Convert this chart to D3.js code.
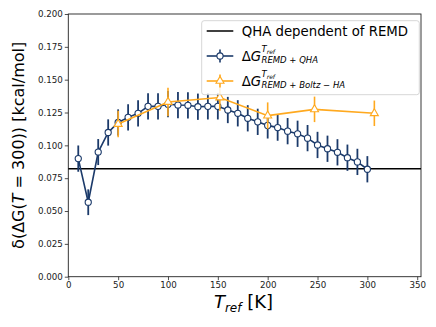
<!DOCTYPE html>
<html>
<head>
<meta charset="utf-8">
<script src="https://cdn.jsdelivr.net/npm/d3@7"></script>
<style>
body{margin:0;background:#fff;}
text{font-family:"DejaVu Sans",sans-serif;}
</style>
</head>
<body>
<svg id="chart" width="436" height="327"></svg>
<script>
// ---- data ----
const remdQhaT = [10,20,30,40,50,60,70,80,90,100,110,120,130,140,150,160,170,180,190,200,210,220,230,240,250,260,270,280,290,300];
const remdQhaVal = [0.0899,0.0567,0.0949,0.1098,0.1174,0.1213,0.1244,0.1297,0.1297,0.1313,0.1307,0.1305,0.1294,0.1297,0.1297,0.1269,0.1244,0.1206,0.1179,0.1152,0.1135,0.1108,0.1088,0.1055,0.1003,0.0974,0.0947,0.0906,0.0874,0.0818];
const remdQhaErr = [0.0100,0.0098,0.0099,0.0100,0.0100,0.0100,0.0100,0.0100,0.0100,0.0100,0.0100,0.0100,0.0100,0.0100,0.0100,0.0100,0.0100,0.0100,0.0100,0.0100,0.0100,0.0100,0.0100,0.0100,0.0100,0.0100,0.0100,0.0100,0.0100,0.0100];
const boltzT = [50,100,152,200,247,307];
const boltzVal = [0.1162,0.1330,0.1364,0.1226,0.1274,0.1244];
const boltzErr = [0.0101,0.0109,0.0100,0.0101,0.0097,0.0097];
const qhaLevel = 0.0822;
const xTicks = [0,50,100,150,200,250,300,350];
const yTicks = [0.000,0.025,0.050,0.075,0.100,0.125,0.150,0.175,0.200];

const blue = "#1b3a6a";
const orange = "#ffa91f";

const svg = d3.select("#chart");
const L = 68.3, R = 421, T = 14, B = 276.7;
const x = d3.scaleLinear().domain([0,353.8]).range([L,R]);
const y = d3.scaleLinear().domain([0,0.2]).range([B,T]);

// axes
const xAxis = d3.axisBottom(x).tickValues(xTicks).tickFormat(d3.format("d")).tickSize(3.5).tickPadding(2);
const yAxis = d3.axisLeft(y).tickValues(yTicks).tickFormat(d3.format(".3f")).tickSize(3.5).tickPadding(2);
const gx = svg.append("g").attr("transform",`translate(0,${B})`).call(xAxis);
const gy = svg.append("g").attr("transform",`translate(${L},0)`).call(yAxis);
[gx,gy].forEach(g=>{
  g.select(".domain").remove();
  g.selectAll("text").attr("font-size","8.7px").attr("fill","#222").style("font-family","DejaVu Sans");
  g.selectAll("line").attr("stroke","#222").attr("stroke-width",0.8);
});

// frame
svg.append("rect").attr("x",L).attr("y",T).attr("width",R-L).attr("height",B-T)
  .attr("fill","none").attr("stroke","#222").attr("stroke-width",0.9);

// horizontal QHA line
svg.append("line").attr("x1",L).attr("x2",R).attr("y1",y(qhaLevel)).attr("y2",y(qhaLevel))
  .attr("stroke","#000").attr("stroke-width",1.5);

const blueData = remdQhaT.map((t,i)=>({t,v:remdQhaVal[i],e:remdQhaErr[i]}));
const orangeData = boltzT.map((t,i)=>({t,v:boltzVal[i],e:boltzErr[i]}));

const line = d3.line().x(d=>x(d.t)).y(d=>y(d.v));

// blue series
const gb = svg.append("g");
gb.selectAll("line.err").data(blueData).enter().append("line")
  .attr("x1",d=>x(d.t)).attr("x2",d=>x(d.t)).attr("y1",d=>y(d.v-d.e)).attr("y2",d=>y(d.v+d.e))
  .attr("stroke",blue).attr("stroke-width",1.8);
gb.append("path").datum(blueData).attr("d",line).attr("fill","none").attr("stroke",blue).attr("stroke-width",1.6);
gb.selectAll("circle").data(blueData).enter().append("circle")
  .attr("cx",d=>x(d.t)).attr("cy",d=>y(d.v)).attr("r",3.1)
  .attr("fill","#fff").attr("stroke",blue).attr("stroke-width",1.1);

// orange series
const go = svg.append("g");
go.selectAll("line.err").data(orangeData).enter().append("line")
  .attr("x1",d=>x(d.t)).attr("x2",d=>x(d.t)).attr("y1",d=>y(d.v-d.e)).attr("y2",d=>y(d.v+d.e))
  .attr("stroke",orange).attr("stroke-width",1.6);
go.append("path").datum(orangeData).attr("d",line).attr("fill","none").attr("stroke",orange).attr("stroke-width",1.6);
const tri = d3.symbol().type(d3.symbolTriangle).size(28);
go.selectAll("path.m").data(orangeData).enter().append("path")
  .attr("transform",d=>`translate(${x(d.t)},${y(d.v)})`).attr("d",tri)
  .attr("fill","#fff").attr("stroke",orange).attr("stroke-width",1.1);

// legend
const lg = svg.append("g");
lg.append("rect").attr("x",201.7).attr("y",20.7).attr("width",217.6).attr("height",74)
  .attr("rx",2.5).attr("fill","#fff").attr("fill-opacity",0.85).attr("stroke","#ccc").attr("stroke-width",0.8);
const hx1 = 206.7, hx2 = 233.3, hxm = (hx1+hx2)/2, tx = 241.7;
lg.append("line").attr("x1",hx1).attr("x2",hx2).attr("y1",31).attr("y2",31).attr("stroke","#000").attr("stroke-width",1.5);
lg.append("text").attr("x",tx).attr("y",35.6).attr("font-size","13.3px").attr("fill","#000").text("QHA dependent of REMD");
function mathLabel(yc, sub){
  const t = lg.append("text").attr("x",tx).attr("y",yc+4.7).attr("font-size","13.3px").attr("fill","#000");
  t.append("tspan").text("Δ");
  t.append("tspan").attr("font-style","italic").text("G");
  const sx = tx + 19.8;
  lg.append("text").attr("x",sx).attr("y",yc-3.6).attr("font-size","8.5px").attr("font-style","italic").text("T");
  lg.append("text").attr("x",sx+5.2).attr("y",yc-2.1).attr("font-size","6px").attr("font-style","italic").text("ref");
  lg.append("text").attr("x",sx).attr("y",yc+7.4).attr("font-size","8.5px").attr("font-style","italic").text(sub);
}
lg.append("line").attr("x1",hx1).attr("x2",hx2).attr("y1",56).attr("y2",56).attr("stroke",blue).attr("stroke-width",1.6);
lg.append("line").attr("x1",hxm).attr("x2",hxm).attr("y1",49.5).attr("y2",62.5).attr("stroke",blue).attr("stroke-width",1.6);
lg.append("circle").attr("cx",hxm).attr("cy",56).attr("r",3.1).attr("fill","#fff").attr("stroke",blue).attr("stroke-width",1.1);
mathLabel(56, "REMD + QHA");
lg.append("line").attr("x1",hx1).attr("x2",hx2).attr("y1",81).attr("y2",81).attr("stroke",orange).attr("stroke-width",1.6);
lg.append("line").attr("x1",hxm).attr("x2",hxm).attr("y1",74.5).attr("y2",87.5).attr("stroke",orange).attr("stroke-width",1.6);
lg.append("path").attr("transform",`translate(${hxm},81)`).attr("d",tri).attr("fill","#fff").attr("stroke",orange).attr("stroke-width",1.1);
mathLabel(81, "REMD + Boltz − HA");

// axis labels
const yl = svg.append("text").attr("transform",`translate(23.5,${(T+B)/2}) rotate(-90)`)
  .attr("text-anchor","middle").attr("font-size","16px").attr("fill","#000");
yl.append("tspan").text("δ(ΔG(");
yl.append("tspan").attr("font-style","italic").text("T");
yl.append("tspan").text(" = 300)) [kcal/mol]");

const xl = svg.append("text").attr("x",243.5).attr("y",308).attr("text-anchor","middle").attr("font-size","18px").attr("fill","#000");
xl.append("tspan").attr("font-style","italic").text("T");
xl.append("tspan").attr("font-style","italic").attr("font-size","12px").attr("dy","4").text("ref");
xl.append("tspan").attr("dy","-4").text(" [K]");
</script>
</body>
</html>
